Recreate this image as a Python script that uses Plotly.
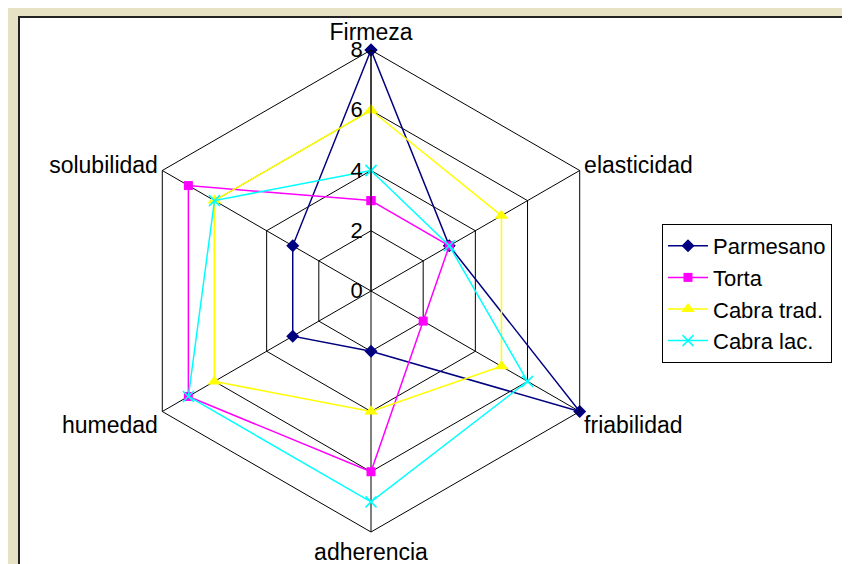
import plotly.graph_objects as go

categories = ["Firmeza", "elasticidad", "friabilidad", "adherencia", "humedad", "solubilidad"]
parmesano = [8, 3, 8, 2, 3, 3]
torta = [3, 3, 2, 6, 7, 7]
cabra_trad = [6, 5, 5, 4, 6, 6]
cabra_lac = [4, 3, 6, 7, 7, 6]
radial_ticks = [0, 2, 4, 6, 8]

series = [
    ("Parmesano", parmesano, "#000080", dict(symbol="diamond", size=10, color="#000080")),
    ("Torta", torta, "#FF00FF", dict(symbol="square", size=9, color="#FF00FF")),
    ("Cabra trad.", cabra_trad, "#FFFF00", dict(symbol="triangle-up", size=12, color="#FFFF00")),
    ("Cabra lac.", cabra_lac, "#00FFFF", dict(symbol="x-thin-open", size=11, color="#00FFFF",
                                              line=dict(color="#00FFFF", width=1.5))),
]

fig = go.Figure()
for name, vals, col, mk in series:
    fig.add_trace(go.Scatterpolar(
        r=vals + vals[:1],
        theta=categories + categories[:1],
        mode="lines+markers",
        name=name,
        line=dict(color=col, width=1.5),
        marker=mk,
    ))

fig.update_layout(
    width=850, height=564,
    margin=dict(l=0, r=0, t=0, b=0),
    paper_bgcolor="#e8e2c4",
    font=dict(family="Liberation Sans, Arial, sans-serif", size=22, color="black"),
    shapes=[dict(type="rect", xref="paper", yref="paper",
                 x0=11/850, x1=1.02, y0=1.5/564, y1=(564-9)/564,
                 fillcolor="white", line=dict(color="#222222", width=2), layer="below")],
    polar=dict(
        domain=dict(x=[122/850, 604/850], y=[40/564, 522/564]),
        bgcolor="rgba(0,0,0,0)",
        gridshape="linear",
        radialaxis=dict(
            range=[0, 8], tickvals=radial_ticks, angle=90, tickangle=90,
            side="counterclockwise", ticksuffix="\u00a0\u00a0",
            showline=True, linecolor="black", linewidth=1,
            gridcolor="black", gridwidth=1, ticks="",
            tickfont=dict(size=22, color="black"),
        ),
        angularaxis=dict(
            direction="clockwise", rotation=90,
            showline=True, linecolor="black", linewidth=1,
            gridcolor="black", gridwidth=1, ticks="",
            tickfont=dict(size=23, color="black"),
        ),
    ),
    legend=dict(
        x=654/850, y=(564-216)/564, xanchor="left", yanchor="top",
        bgcolor="white", bordercolor="black", borderwidth=1,
        font=dict(size=22, color="black"),
        tracegroupgap=0, itemwidth=40,
    ),
)

fig.write_html("out.html")
